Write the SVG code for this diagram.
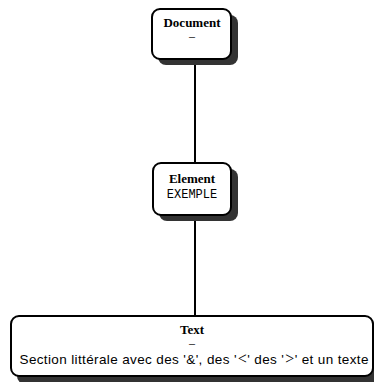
<svg xmlns="http://www.w3.org/2000/svg" width="374" height="382" viewBox="0 0 374 382">
  <defs>
    <style>
      .shadow { fill: #333333; }
      .box { fill: #ffffff; stroke: #000000; stroke-width: 2; }
      .edge { stroke: #000000; stroke-width: 2; fill: none; }
      .title { font-family: "Liberation Serif", serif; font-weight: bold; font-size: 13px; text-anchor: middle; fill: #000; }
      .dash { font-family: "Liberation Serif", serif; font-size: 12px; text-anchor: middle; fill: #000; }
      .mono { font-family: "Liberation Mono", monospace; font-size: 12px; text-anchor: middle; fill: #000; }
      .body { font-family: "Liberation Sans", sans-serif; font-size: 13.5px; text-anchor: middle; fill: #000; }
      .sym { font-family: "Liberation Serif", serif; font-size: 16px; }
    </style>
  </defs>
  <rect width="374" height="382" fill="#ffffff"/>

  <g id="connectors">
    <line class="edge" x1="195" y1="60" x2="195" y2="163"/>
    <line class="edge" x1="195" y1="215" x2="195" y2="316"/>
  </g>

  <g id="node-document">
    <rect class="shadow" x="158" y="15" width="80" height="50" rx="8"/>
    <rect class="box" x="152" y="9" width="79" height="50" rx="8"/>
    <text class="title" x="192" y="27">Document</text>
    <text class="dash" x="192" y="40">–</text>
  </g>

  <g id="node-element">
    <rect class="shadow" x="159" y="169" width="79" height="52" rx="8"/>
    <rect class="box" x="153" y="163" width="78" height="52" rx="8"/>
    <text class="title" x="192" y="183">Element</text>
    <text class="mono" x="192" y="198">EXEMPLE</text>
  </g>

  <g id="node-text">
    <rect class="shadow" x="17" y="322" width="362" height="62" rx="8"/>
    <rect class="box" x="11" y="316" width="362" height="60" rx="8"/>
    <text class="title" x="192" y="334">Text</text>
    <text class="dash" x="192" y="347">–</text>
    <text class="body" x="194" y="364" textLength="349" lengthAdjust="spacing">Section littérale avec des '&amp;', des '<tspan class="sym" dx="1">&lt;</tspan>' des '<tspan class="sym" dx="1">&gt;</tspan>' et un texte</text>
  </g>
</svg>
